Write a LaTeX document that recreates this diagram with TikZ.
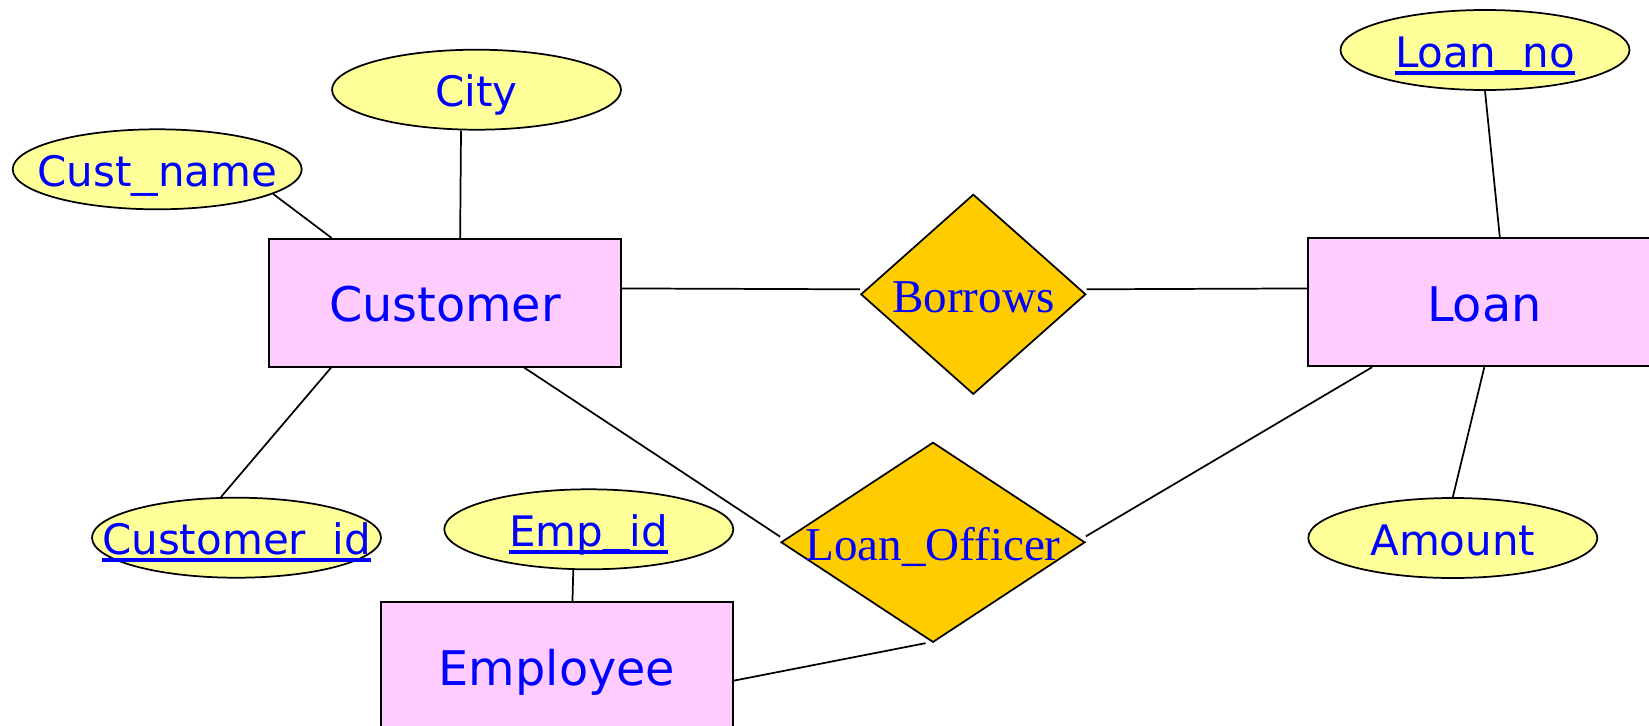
\documentclass[tikz,border=0pt]{standalone}
\usepackage{fontspec}
\usepackage{graphicx}
\newfontfamily\attrfont{DejaVu Sans}
\newfontfamily\relfont{Liberation Serif}
\usetikzlibrary{shapes.geometric,calc}
\definecolor{attrfill}{HTML}{FFFF99}
\definecolor{entfill}{HTML}{FFCCFF}
\definecolor{relfill}{HTML}{FFCC00}
\definecolor{txtblue}{HTML}{0000FF}
\newcommand\keyattr[1]{\setbox0\hbox{#1}\rlap{\rule[-0.18em]{\wd0}{0.09em}}\box0}
\newcommand\usc{\scalebox{1.26}[1]{\_}}
\newcommand\kusc{\raisebox{0.079em}{\scalebox{1.26}[1]{\_}}}
\begin{document}
\begin{tikzpicture}[x=0.75pt,y=-0.75pt,line width=1.3pt,
  attr/.style={ellipse,draw,fill=attrfill,inner sep=0pt,
    minimum width=289*0.75pt,minimum height=80*0.75pt,
    text height=25.5pt,text depth=0pt,text=txtblue,
    font=\attrfont\fontsize{31.5}{36}\selectfont},
  entity/.style={rectangle,draw,fill=entfill,inner sep=0pt,
    minimum width=352*0.75pt,minimum height=128*0.75pt,
    text height=28.5pt,text depth=0pt,text=txtblue,
    font=\attrfont\fontsize{35.8}{40}\selectfont},
  rel/.style={diamond,draw,fill=relfill,inner sep=0pt,
    minimum height=200*0.75pt,
    text height=27.5pt,text depth=0pt,text=txtblue,
    font=\relfont\fontsize{35.3}{40}\selectfont}]
\clip (0,0) rectangle (1649,725);
% attributes
\node[attr] (custname) at (157.2,169.3) {\makebox[0pt]{Cust\usc name}};
\node[attr] (city) at (476.5,89.7) {\makebox[0pt]{City}};
\node[attr] (custid) at (236.5,537.7) {\makebox[0pt]{\keyattr{Customer\kusc id}}};
\node[attr] (empid) at (588.8,529.3) {\makebox[0pt]{\keyattr{Emp\kusc id}}};
\node[attr] (loanno) at (1485,50) {\makebox[0pt]{\keyattr{Loan\kusc no}}};
\node[attr] (amount) at (1452.8,538) {\makebox[0pt]{Amount}};
% entities
\node[entity] (customer) at (445,302.7) {\makebox[0pt]{Customer}};
\node[entity] (loan) at (1484.3,302.3) {\makebox[0pt]{Loan}};
\node[entity] (employee) at (557,666.3) {\makebox[0pt]{Employee}};
% relationships
\node[rel,minimum width=225*0.75pt] (borrows) at (973.3,294.3) {\makebox[0pt]{Borrows}};
\node[rel,minimum width=304*0.75pt] (loanofficer) at (933,542.3) {\makebox[0pt]{Loan\_Officer}};
% connectors
\draw (custname.-12.8) -- ($(customer.north west)+(63.3,0)$);
\draw ($(customer.north west)+(192,0)$) -- ($(city.south)+(-15.5,0)$);
\draw ($(customer.south west)+(63,0)$) -- (custid.111.2);
\draw ($(customer.north east)+(0,50.6)$) -- ($(borrows.west)+(0,-5)$);
\draw ($(borrows.east)+(0,-5)$) -- ($(loan.north west)+(0,51)$);
\draw (loanno.south) -- ($(loan.north west)+(192.4,0)$);
\draw (loan.south) -- (amount.north);
\draw ($(customer.south west)+(256,0)$) -- ($(loanofficer.west)+(0,-5.6)$);
\draw ($(loanofficer.east)+(0,-6)$) -- ($(loan.south west)+(64.7,0)$);
\draw ($(employee.north east)+(0,79.2)$) -- ($(loanofficer.south)+(-7.4,0)$);
\draw ($(employee.north west)+(192.3,0)$) -- ($(empid.south)+(-15.5,0)$);
\end{tikzpicture}
\end{document}
